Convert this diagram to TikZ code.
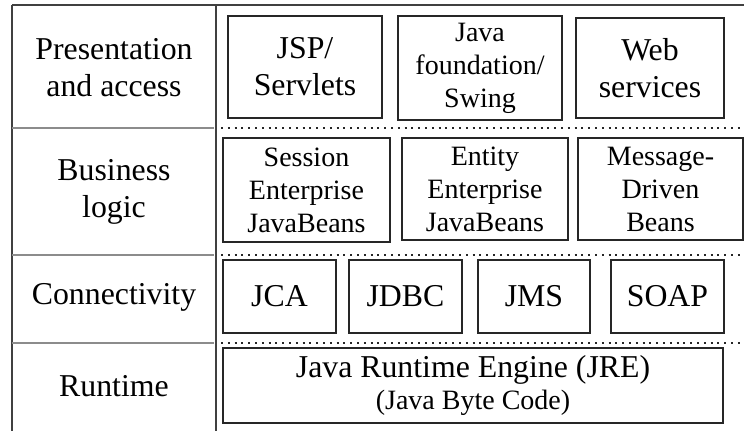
\documentclass[tikz,border=0pt]{standalone}
\usepackage{fontspec}
\setmainfont{Liberation Serif}
\begin{document}
\begin{tikzpicture}[x=0.5pt,y=-0.5pt,
  big/.style={font=\fontsize{15.9}{18.5}\selectfont},
  small/.style={font=\fontsize{14}{16.5}\selectfont},
  box/.style={draw=black!85,line width=0.8pt,align=center,inner sep=0pt},
  label/.style={align=center,inner sep=0pt,big},
  frame/.style={draw=black!75,line width=0.7pt},
  sep/.style={draw=black!45,line width=1.1pt},
  dotsep/.style={draw=black!85,line width=1.3pt,dash pattern=on 1pt off 2.4pt}]
\useasboundingbox (0,0) rectangle (744,431);
% frame
\draw[frame] (12,5) -- (744,5);
\draw[frame] (12,5) -- (12,431);
\draw[frame] (216,5) -- (216,431);
\foreach \yy in {128,255,343}{
  \draw[sep] (12,\yy) -- (214,\yy);
  \draw[dotsep] (221,\yy) -- (744,\yy);
}
% left labels
\node[label] (pres) at (114,68) {Presentation\\and access};
\node[label] (bus) at (114,192) {Business\\logic};
\node[label] (con) at (114,297) {Connectivity};
\node[label] (run) at (114,386) {Runtime};
% presentation row
\node[box,big,minimum width=77pt,minimum height=51pt] (jsp) at (305,67) {JSP/\\Servlets};
\node[box,small,minimum width=82pt,minimum height=52pt] (swing) at (480,68) {Java\\foundation/\\Swing};
\node[box,big,minimum width=74pt,minimum height=50pt] (web) at (650,68) {Web\\services};
% business row
\node[box,small,minimum width=83.5pt,minimum height=52pt] (session) at (306.5,190) {Session\\Enterprise\\JavaBeans};
\node[box,small,minimum width=83pt,minimum height=51pt] (entity) at (485,189) {Entity\\Enterprise\\JavaBeans};
\node[box,small,minimum width=82.5pt,minimum height=51pt] (mdb) at (660.5,189) {Message-\\Driven\\Beans};
% connectivity row
\node[box,big,minimum width=56.5pt,minimum height=36.5pt] (jca) at (279.5,296.5) {JCA};
\node[box,big,minimum width=56.5pt,minimum height=36.5pt] (jdbc) at (405.5,296.5) {JDBC};
\node[box,big,minimum width=56pt,minimum height=36.5pt] (jms) at (534,296.5) {JMS};
\node[box,big,minimum width=56.5pt,minimum height=36.5pt] (soap) at (667.5,296.5) {SOAP};
% runtime row
\node[box,minimum width=250pt,minimum height=37.5pt] (jre) at (473,385.5)
  {{\fontsize{15.9}{16.5}\selectfont Java Runtime Engine (JRE)}\\[1.5pt]{\fontsize{14}{16.5}\selectfont (Java Byte Code)}};
\end{tikzpicture}
\end{document}
